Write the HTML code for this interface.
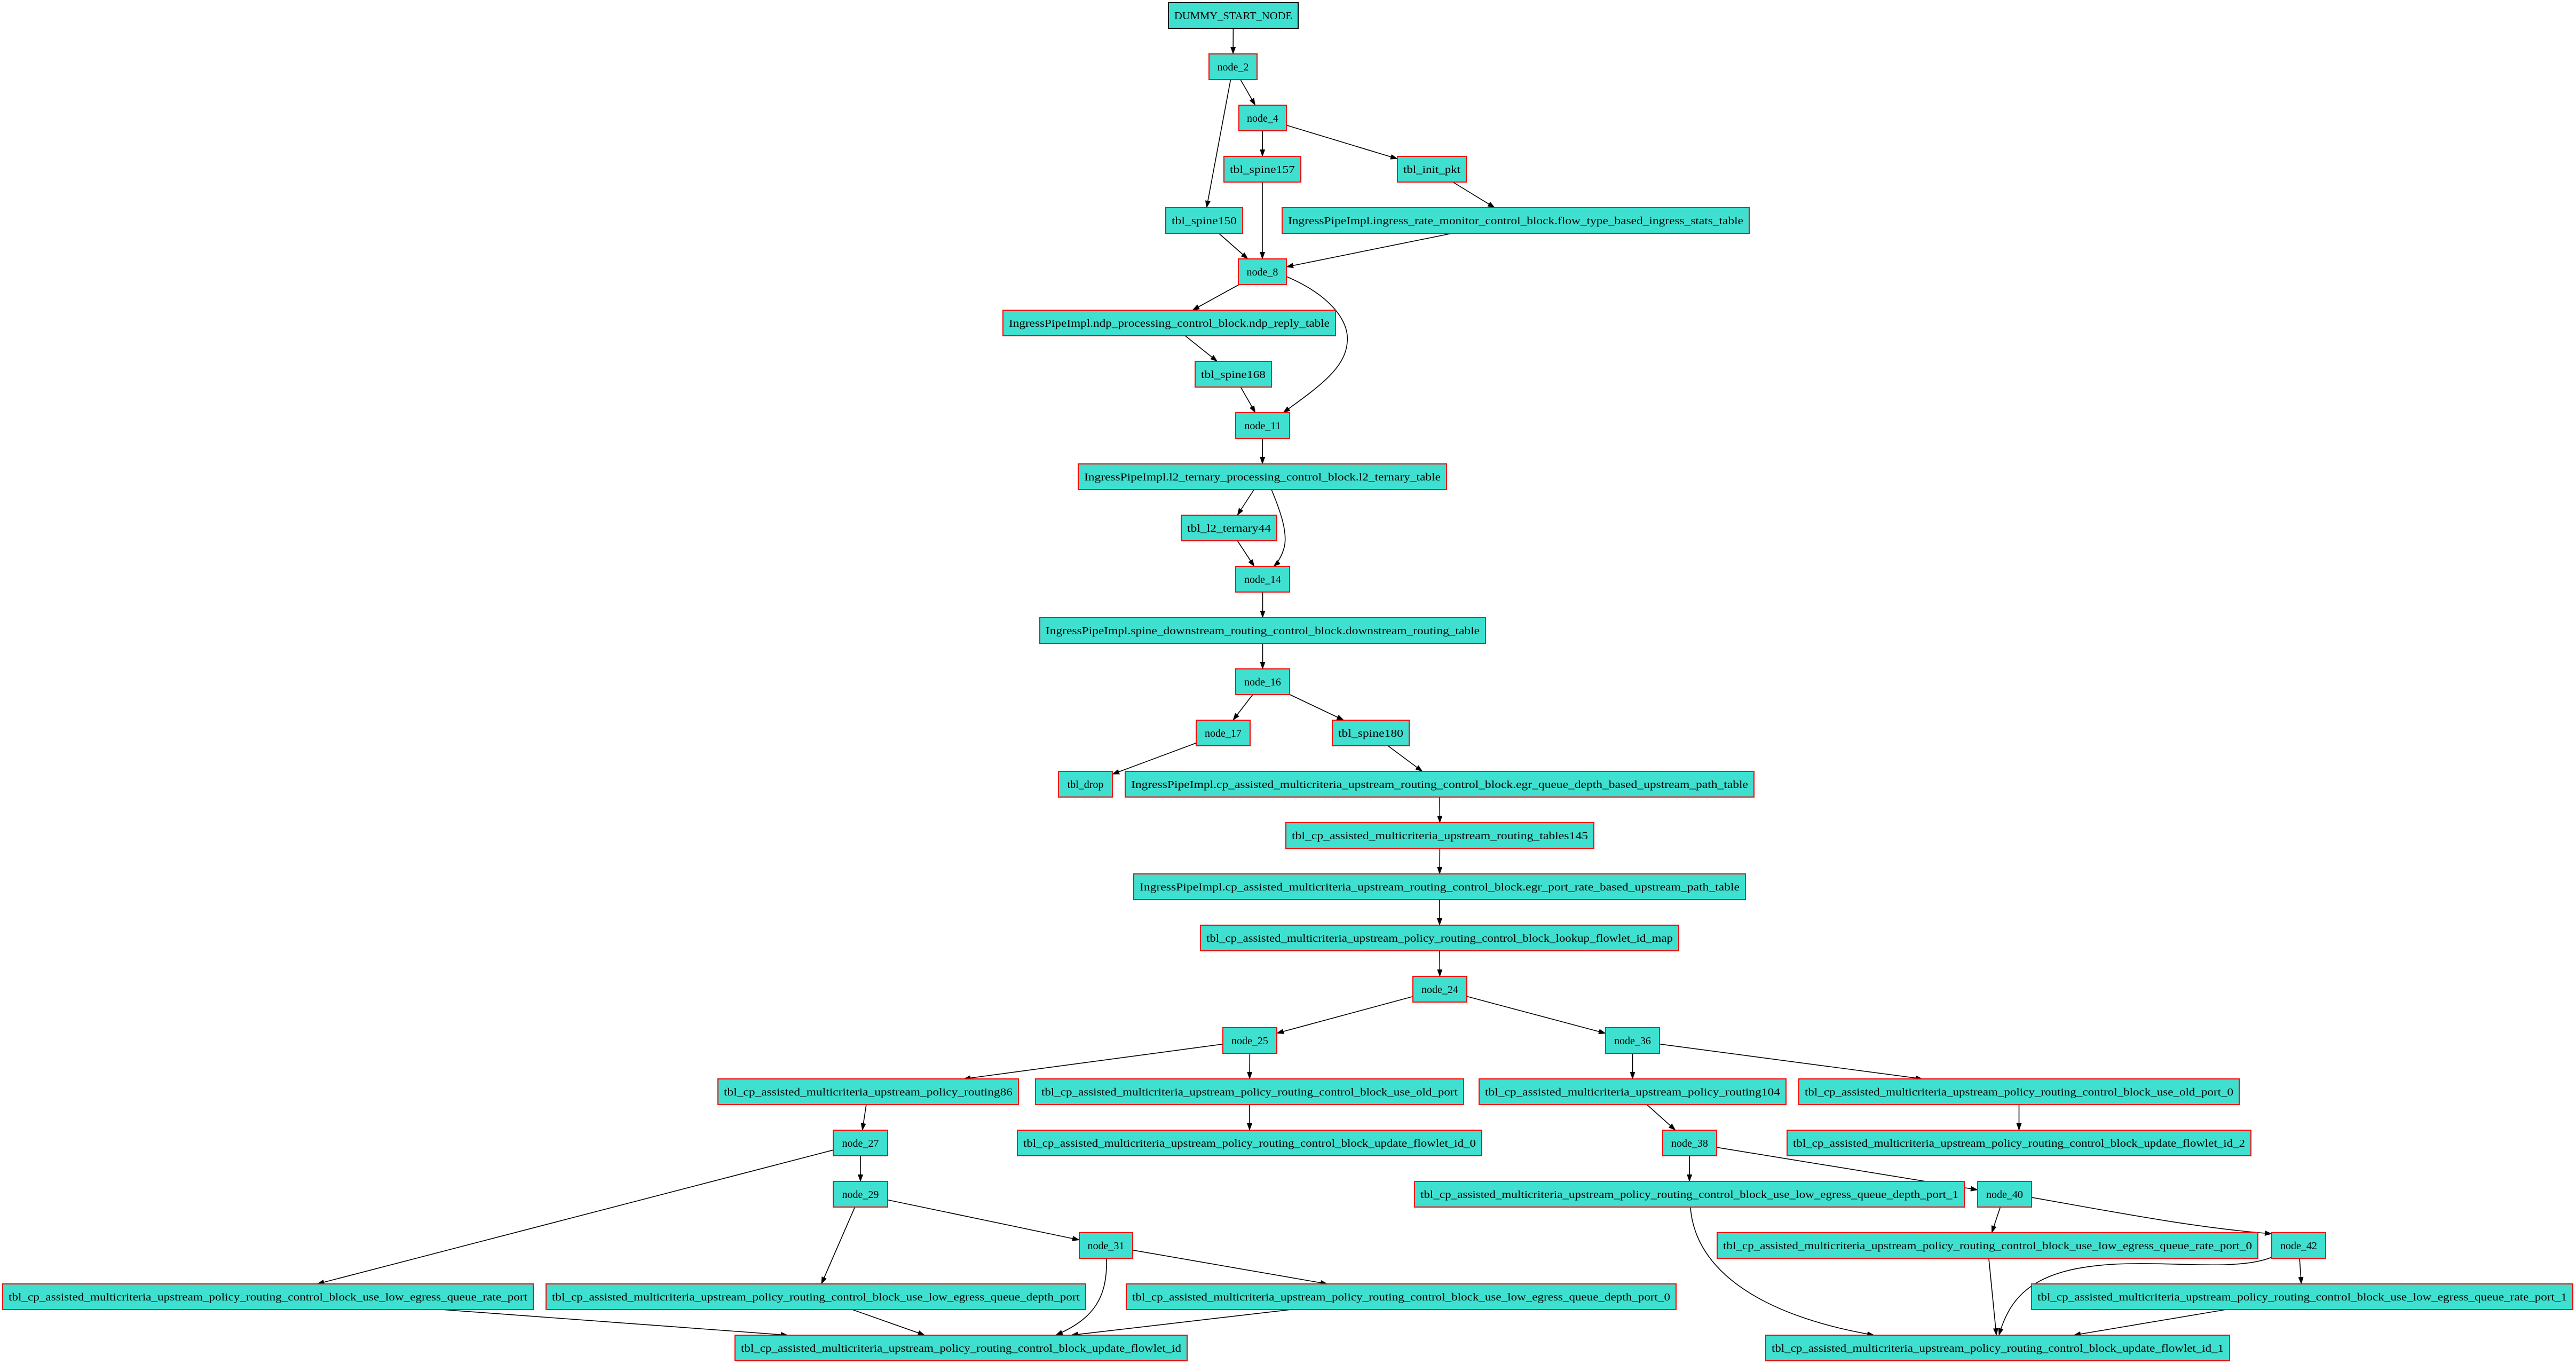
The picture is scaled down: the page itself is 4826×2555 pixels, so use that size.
<!DOCTYPE html>
<html>
<head>
<meta charset="utf-8">
<style>
html,body{margin:0;padding:0;background:#fff;}
svg{display:block;}
text{font-family:"Liberation Serif",serif;font-size:20px;fill:#000;}
</style>
</head>
<body>
<svg id="g" xmlns="http://www.w3.org/2000/svg" width="4826" height="2555" viewBox="0 0 4826 2555">
<defs>
<marker id="arr" markerWidth="14" markerHeight="10" refX="13" refY="5" orient="auto" markerUnits="userSpaceOnUse">
<path d="M0,0 L14,5 L0,10 Z" fill="#000"/>
</marker>
</defs>
<g id="edges"></g>
<g id="nodes"></g>
</svg>
<script>
const P = "tbl_cp_assisted_multicriteria_upstream_policy_routing_control_block_";
const nodeLabels = [
"DUMMY_START_NODE","node_2","node_4","tbl_spine157","tbl_init_pkt","tbl_spine150",
"IngressPipeImpl.ingress_rate_monitor_control_block.flow_type_based_ingress_stats_table",
"node_8","IngressPipeImpl.ndp_processing_control_block.ndp_reply_table","tbl_spine168","node_11",
"IngressPipeImpl.l2_ternary_processing_control_block.l2_ternary_table","tbl_l2_ternary44","node_14",
"IngressPipeImpl.spine_downstream_routing_control_block.downstream_routing_table","node_16","node_17","tbl_spine180","tbl_drop",
"IngressPipeImpl.cp_assisted_multicriteria_upstream_routing_control_block.egr_queue_depth_based_upstream_path_table",
"tbl_cp_assisted_multicriteria_upstream_routing_tables145",
"IngressPipeImpl.cp_assisted_multicriteria_upstream_routing_control_block.egr_port_rate_based_upstream_path_table",
P+"lookup_flowlet_id_map","node_24","node_25","node_36",
"tbl_cp_assisted_multicriteria_upstream_policy_routing86",P+"use_old_port",
"tbl_cp_assisted_multicriteria_upstream_policy_routing104",P+"use_old_port_0",
"node_27",P+"update_flowlet_id_0","node_38",P+"update_flowlet_id_2",
"node_29",P+"use_low_egress_queue_depth_port_1","node_40",
"node_31",P+"use_low_egress_queue_rate_port_0","node_42",
P+"use_low_egress_queue_rate_port",P+"use_low_egress_queue_depth_port",P+"use_low_egress_queue_depth_port_0",P+"use_low_egress_queue_rate_port_1",
P+"update_flowlet_id",P+"update_flowlet_id_1"
];
const nodeRows = [0,1,2,3,3,4,4,5,6,7,8,9,10,11,12,13,14,14,15,15,16,17,18,19,20,20,21,21,21,21,22,22,22,22,23,23,23,24,24,24,25,25,25,25,26,26];
const nodeX1 = [2189,2265,2321,2293,2618,2184,2402,2320,1879,2239,2315,2020,2213,2315,1948,2315,2241,2496,1983,2108,2409,2124,2249,2647,2291,3008,1345,1940,2771,3370,1561,1906,3115,3348,1561,2650,3705,2022,3217,4256,5,1023,2110,3806,1377,3308];
const nodeX2 = [2432,2355,2410,2437,2747,2328,3277,2410,2502,2382,2416,2710,2392,2416,2783,2416,2342,2640,2084,3286,2986,3270,3145,2748,2392,3109,1908,2742,3346,4195,1663,2776,3216,4217,1663,3680,3806,2122,4230,4357,999,2034,3140,4820,2224,4177];
const edgeFrom = [0,1,1,2,2,4,5,3,6,7,7,8,9,10,11,11,12,13,14,15,15,16,17,19,20,21,22,23,23,24,24,27,26,30,30,34,34,37,37,40,41,42,25,25,29,28,32,32,36,36,35,38,39,39,43];
const edgeTo   = [1,2,5,3,4,6,7,7,7,8,10,9,10,11,12,13,13,14,15,16,17,18,19,20,21,22,23,24,25,26,27,31,30,34,40,41,37,42,44,44,44,44,28,29,33,32,35,36,38,39,45,45,43,45,45];
// curved edges drawn as splines (index in edge list -> path)
const curved = {
 10:"M2410,518 C2490,552 2528,600 2524,640 C2521,690 2470,725 2404,773",
 15:"M2382,917 C2402,965 2412,1000 2406,1025 C2401,1043 2393,1055 2386,1061",
 38:"M2073,2357 C2075,2430 2050,2470 1978,2501",
 49:"M3806,2243 C3950,2268 4110,2300 4256,2311",
 50:"M3167,2261 C3175,2380 3300,2465 3511,2501",
 53:"M4256,2355 C4200,2378 4100,2366 4000,2367 C3820,2368 3768,2420 3745,2501"
};
const ROW0 = 29, PITCH = 96, H = 48;
const NS = "http://www.w3.org/2000/svg";
const gN = document.getElementById('nodes'), gE = document.getElementById('edges');
function cy(i){return ROW0 + PITCH*nodeRows[i];}
function cx(i){return (nodeX1[i]+nodeX2[i])/2;}
function clip(i,dx,dy){
  const hw=(nodeX2[i]-nodeX1[i])/2, hh=H/2;
  const t=Math.min(dx?hw/Math.abs(dx):1e9, dy?hh/Math.abs(dy):1e9);
  return [cx(i)+dx*t, cy(i)+dy*t];
}
for(let e=0;e<edgeFrom.length;e++){
  const a=edgeFrom[e], b=edgeTo[e];
  const p=document.createElementNS(NS,'path');
  let d;
  if(curved[e]) d=curved[e];
  else{
    const dx=cx(b)-cx(a), dy=cy(b)-cy(a);
    const s=clip(a,dx,dy), t=clip(b,-dx,-dy);
    d="M"+s[0].toFixed(1)+","+s[1].toFixed(1)+" L"+t[0].toFixed(1)+","+t[1].toFixed(1);
  }
  p.setAttribute('d',d);
  p.setAttribute('fill','none');
  p.setAttribute('stroke','#000');
  p.setAttribute('stroke-width','1.6');
  p.setAttribute('marker-end','url(#arr)');
  
  
  gE.appendChild(p);
}
for(let i=0;i<nodeLabels.length;i++){
  const g=document.createElementNS(NS,'g');
  
  
  const r=document.createElementNS(NS,'rect');
  r.setAttribute('x',nodeX1[i]);
  r.setAttribute('y',cy(i)-H/2);
  r.setAttribute('width',nodeX2[i]-nodeX1[i]);
  r.setAttribute('height',H);
  r.setAttribute('fill','#40e0d0');
  r.setAttribute('stroke', i===0?'#000':'#ff0000');
  r.setAttribute('stroke-width','2');
  
  
  g.appendChild(r);
  const t=document.createElementNS(NS,'text');
  t.setAttribute('x',cx(i));
  t.setAttribute('y',cy(i)+7);
  t.setAttribute('text-anchor','middle');
  const w=nodeX2[i]-nodeX1[i];
  if(w>110){
    t.setAttribute('textLength',w-22);
    t.setAttribute('lengthAdjust','spacingAndGlyphs');
  }
  t.textContent=nodeLabels[i];
  
  
  g.appendChild(t);
  gN.appendChild(g);
}
</script>
</body>
</html>
